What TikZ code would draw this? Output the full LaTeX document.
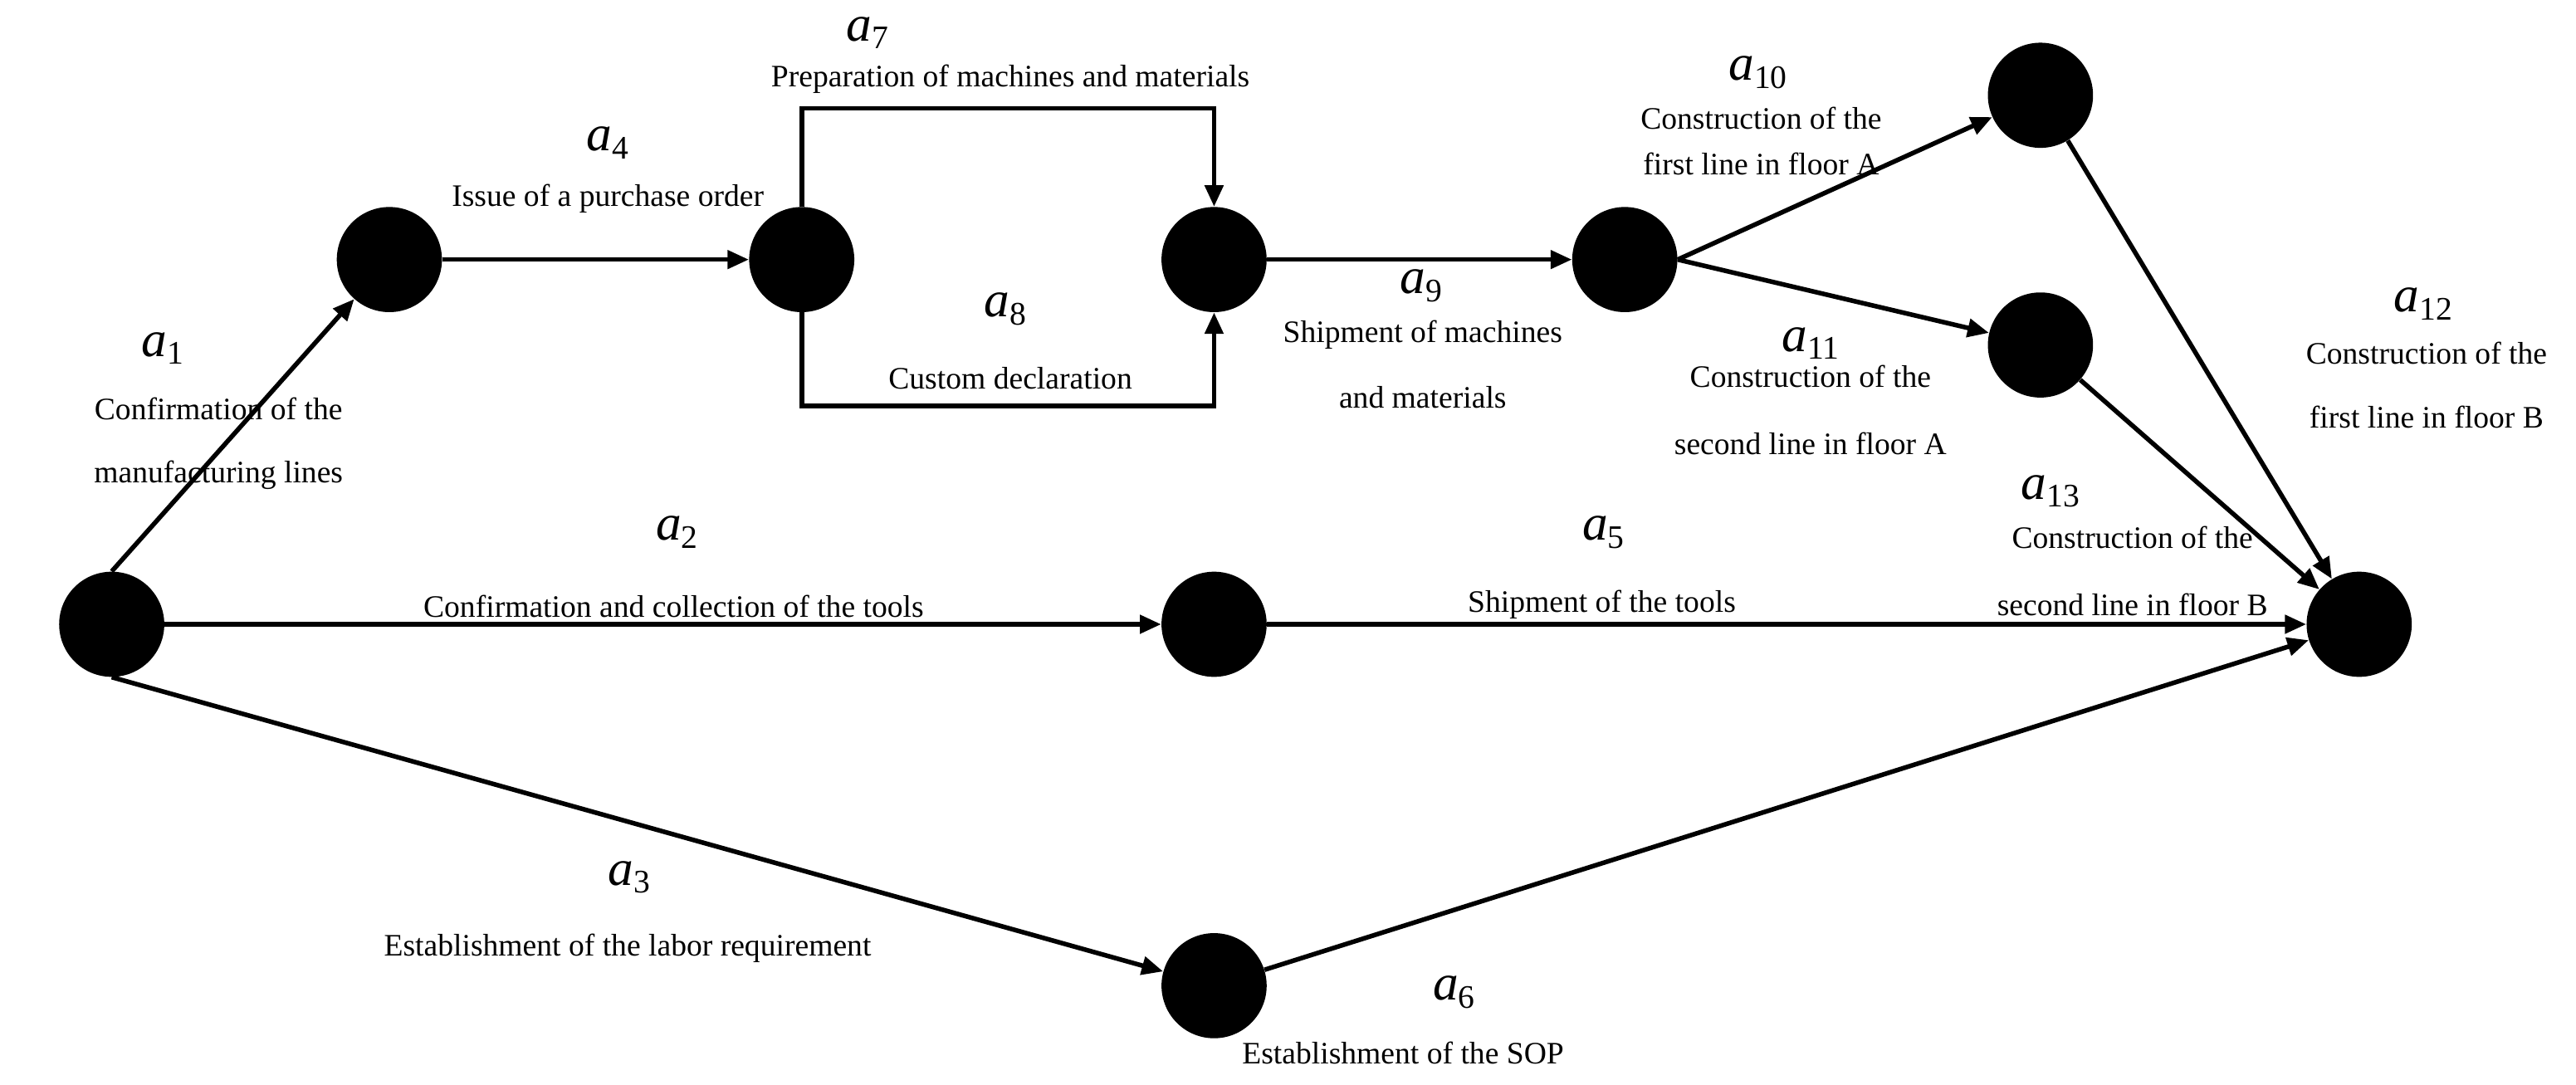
\documentclass[tikz,border=0pt]{standalone}
\usepackage{fontspec}
\setmainfont{Liberation Serif}
\usetikzlibrary{arrows.meta,positioning}
\newcommand{\actname}[1]{\textit{a}\raisebox{-0.35ex}{\fontsize{20}{22}\selectfont #1}}
\tikzset{
  ev/.style={circle,fill=black,minimum size=64pt,inner sep=0pt},
  act/.style={line width=2.8pt,-{Triangle[length=13pt,width=11pt]}},
  txt/.style={font=\fontsize{19}{21}\selectfont,inner sep=0pt},
  lab/.style={font=\fontsize{31}{33}\selectfont,inner sep=0pt}
}
\begin{document}
\begin{tikzpicture}[x=1pt,y=-1pt]
\useasboundingbox (0,0) rectangle (1568,660);
% events
\node[ev] (e1) at (68,380) {};
\node[ev] (e2) at (237,158) {};
\node[ev] (e3) at (488,158) {};
\node[ev] (e4) at (739,158) {};
\node[ev] (e5) at (989,158) {};
\node[ev] (e6) at (1242,58) {};
\node[ev] (e7) at (1242,210) {};
\node[ev] (e8) at (739,380) {};
\node[ev] (e9) at (739,600) {};
\node[ev] (e10) at (1436,380) {};
\coordinate (t1) at (488,66);
\coordinate (t2) at (739,66);
\coordinate (b1) at (488,247);
\coordinate (b2) at (739,247);

% activities
\draw[act] (e1.north) -- (e2);
\draw[act] (e2) -- (e3);
\draw[act] (e3.north) -- (t1) -- (t2) -- (e4.north);
\draw[act] (e3.south) -- (b1) -- (b2) -- (e4.south);
\draw[act] (e4) -- (e5);
\draw[act] (e5.east) -- (e6);
\draw[act] (e5.east) -- (e7);
\draw[act] (e6) -- (e10);
\draw[act] (e7) -- (e10);
\draw[act] (e1) -- (e8);
\draw[act] (e8) -- (e10);
\draw[act] (e1.south) -- (e9);
\draw[act] (e9) -- (e10);

% labels
\node[lab] at (99,212) {\actname{1}};
\node[txt] at (133,249) {Confirmation of the};
\node[txt] at (133,289) {manufacturing lines};
\node[lab] at (370,87) {\actname{4}};
\node[txt] at (370,121) {Issue of a purchase order};
\node[lab] at (528,20) {\actname{7}};
\node[txt] at (615,48) {Preparation of machines and materials};
\node[lab] at (612,188) {\actname{8}};
\node[txt] at (615,230) {Custom declaration};
\node[lab] at (865,174) {\actname{9}};
\node[txt] at (866,204) {Shipment of machines};
\node[txt] at (866,242) {and materials};
\node[lab] at (1070,44) {\actname{10}};
\node[txt] at (1072,72) {Construction of the};
\node[txt] at (1072,100) {first line in floor A};
\node[lab] at (1102,209) {\actname{11}};
\node[txt] at (1102,229) {Construction of the};
\node[txt] at (1102,270) {second line in floor A};
\node[lab] at (1475,185) {\actname{12}};
\node[txt] at (1477,215) {Construction of the};
\node[txt] at (1477,254) {first line in floor B};
\node[lab] at (1248,299) {\actname{13}};
\node[txt] at (1298,327) {Construction of the};
\node[txt] at (1298,368) {second line in floor B};
\node[lab] at (412,324) {\actname{2}};
\node[txt] at (410,369) {Confirmation and collection of the tools};
\node[lab] at (976,324) {\actname{5}};
\node[txt] at (975,368) {Shipment of the tools};
\node[lab] at (383,534) {\actname{3}};
\node[txt] at (382,577) {Establishment of the labor requirement};
\node[lab] at (885,604) {\actname{6}};
\node[txt] at (854,641) {Establishment of the SOP};
\end{tikzpicture}
\end{document}
